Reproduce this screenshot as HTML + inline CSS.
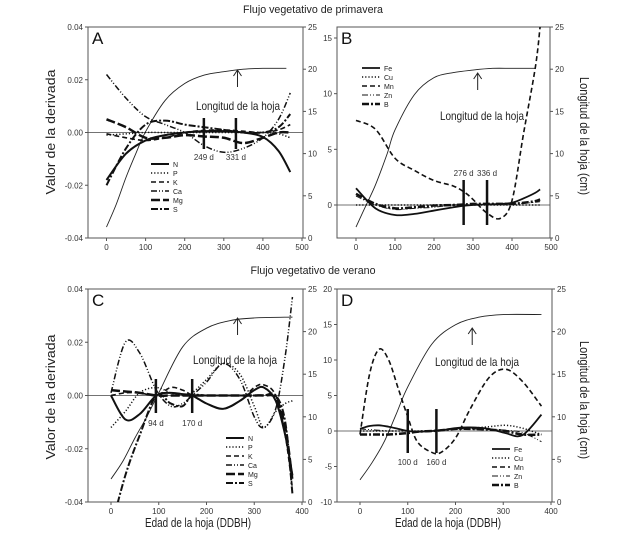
<!DOCTYPE html>
<html><head><meta charset="utf-8"><style>
body{margin:0;background:#fff}
svg{display:block;font-family:"Liberation Sans",sans-serif}
.tk{font-size:8px;fill:#333}
.tt{font-family:"Liberation Sans Narrow","Liberation Sans",sans-serif;fill:#222}
</style></head><body>
<svg id="c" width="627" height="533" viewBox="0 0 627 533">
<text class="tt" x="313" y="13" font-size="11" text-anchor="middle" textLength="140" lengthAdjust="spacingAndGlyphs">Flujo vegetativo de primavera</text>
<text class="tt" x="313" y="274" font-size="11" text-anchor="middle" textLength="125" lengthAdjust="spacingAndGlyphs">Flujo vegetativo de verano</text>
<text class="tt" font-size="13" transform="translate(55,132) rotate(-90)" text-anchor="middle" textLength="125" lengthAdjust="spacingAndGlyphs">Valor de la derivada</text>
<text class="tt" font-size="13" transform="translate(55,397) rotate(-90)" text-anchor="middle" textLength="125" lengthAdjust="spacingAndGlyphs">Valor de la derivada</text>
<text class="tt" font-size="13" transform="translate(580,136) rotate(90)" text-anchor="middle" textLength="118" lengthAdjust="spacingAndGlyphs">Longitud de la hoja (cm)</text>
<text class="tt" font-size="13" transform="translate(580,400) rotate(90)" text-anchor="middle" textLength="118" lengthAdjust="spacingAndGlyphs">Longitud de la hoja (cm)</text>
<text class="tt" x="198" y="527" font-size="13" text-anchor="middle" textLength="106" lengthAdjust="spacingAndGlyphs">Edad de la hoja (DDBH)</text>
<text class="tt" x="448" y="527" font-size="13" text-anchor="middle" textLength="106" lengthAdjust="spacingAndGlyphs">Edad de la hoja (DDBH)</text>
</svg>
<script>
// Panel A data
const aX=[0,50,100,150,200,250,300,350,400,440,470];
const aLeafX=[0,25,50,75,100,150,200,250,300,350,400,460];
const aLeaf=[1.3,4,7.2,10,12.6,16.3,18.3,19.3,19.7,20,20.1,20.1];
const aN=[-0.018,-0.008,-0.003,-0.001,0,0.0005,0.0005,0,-0.0017,-0.007,-0.015];
const aP=[-0.001,-0.0005,0,0,0,0,0,0,0,-0.0005,-0.002];
const aK=[-0.0005,-0.002,-0.003,-0.002,0,0.0008,0.001,0.0005,0,0.001,0.003];
const aCa=[0.022,0.013,0.006,0.003,0,-0.005,-0.0075,-0.006,-0.002,0.005,0.015];
const aMg=[0.005,0.002,-0.002,-0.002,-0.001,-0.0015,-0.002,-0.004,-0.002,0,0];
const aS=[-0.02,-0.006,0.003,0.0045,0.003,0.002,0.001,0,0,0.002,0.007];
// Panel B data
const bX=[0,50,100,150,200,250,280,300,335,370,400,430,460,472];
const bLeafX=[0,25,50,80,100,150,200,250,300,350,400,460];
const bLeaf=[1.3,3.8,6.3,10,12.8,17,19,19.6,19.9,20.1,20.1,20.1];
const bFe=[1.5,-0.3,-0.9,-0.8,-0.5,-0.2,-0.05,0,0.05,0.1,0.2,0.6,1.1,1.4];
const bCu=[0,0,0,0,0,0,0,0,0,0,0,0,0,0];
const bMn=[7.6,6.8,4.2,3.1,2.2,1.7,1.1,0.5,-0.7,-1.2,0.4,6.5,12.4,16];
const bZn=[0.8,0,-0.4,-0.3,-0.2,0,0,0,0,0.05,0.1,0.15,0.25,0.3];
const bB=[1.0,0.1,-0.3,-0.2,-0.05,0,0.05,0.1,0.1,0.1,0.1,0.2,0.35,0.5];
// Panel C data
const cX=[0,30,60,95,125,150,170,200,235,270,300,320,345,365,380];
const cLeafX=[0,25,50,75,100,150,200,250,300,380];
const cLeaf=[2.7,4.8,7.5,10,12.8,18.2,20.4,21.3,21.6,21.7];
const cN=[0,-0.009,-0.007,0,0.001,0.0005,0,-0.003,-0.005,-0.002,0.002,0.003,-0.002,-0.015,-0.03];
const cP=[-0.012,-0.006,0.001,0.003,0.001,0,0.001,0.006,0.012,0.008,-0.004,-0.012,-0.006,-0.003,-0.002];
const cK=[0,0.001,0.001,0,0.003,0.002,0,-0.003,-0.005,-0.002,0.003,0.004,0,-0.015,-0.035];
const cCa=[0.001,0.02,0.016,0.002,-0.004,-0.003,0,0.005,0.012,0.006,-0.008,-0.012,-0.005,0.015,0.037];
const cMg=[0.002,0.0015,0.001,0,0,0,0,0,0,0,0,0,-0.001,-0.012,-0.032];
const cS=[-0.05,-0.03,-0.015,0,-0.003,-0.004,0,0,0,0,0,0,0,-0.01,-0.037];
// Panel D data
const dX=[0,20,40,60,80,100,120,150,170,200,230,270,305,340,380];
const dLeafX=[0,25,50,75,100,150,200,250,300,380];
const dLeaf=[2.6,4.6,7,10.2,13.5,18.5,20.8,21.7,22,22];
const dFe=[0.3,0.7,0.8,0.6,0.3,0,-0.1,0,0.1,0.4,0.5,0.3,-0.3,-0.6,2.3];
const dCu=[0,0,0,0,0,0,0,0,0.1,0.3,0.4,0.6,0.8,0.4,-0.5];
const dMn=[-0.5,8,11.5,10,6,2,-1.5,-3,-3,-1,3,7.5,8.7,7,3.5];
const dZn=[0.3,0.2,0.1,0,0,0,0,0,0.1,0.3,0.3,0.2,0.1,-0.2,-1.5];
const dB=[-0.5,-0.5,-0.5,-0.5,-0.4,-0.3,-0.1,0,0.1,0.3,0.3,0.2,0,-0.5,-0.5];
// ticks / markers
const abXTicks=[0,100,200,300,400,500];
const cdXTicks=[0,100,200,300,400];
const derivTicks=[-0.04,-0.02,0,0.02,0.04];
const derivLabels=["-0.04","-0.02","0.00","0.02","0.04"];
const bTicks=[0,5,10,15];
const dTicks=[-10,-5,0,5,10,15,20];
const leafTicks=[0,5,10,15,20,25];
const aMarks=[249,331], bMarks=[276,336], cMarks=[94,170], dMarks=[100,160];
const aArrow=335, bArrow=312, cArrow=265, dArrow=235;

const NS="http://www.w3.org/2000/svg";
const svg=document.getElementById('c');
function mk(t,a,p){const e=document.createElementNS(NS,t);for(const k in a)e.setAttribute(k,a[k]);(p||svg).appendChild(e);return e;}
function lin(d0,d1,r0,r1){return v=>r0+(v-d0)*(r1-r0)/(d1-d0);}
function smooth(xs,ys,sx,sy){const p=xs.map((x,i)=>[sx(x),sy(ys[i])]);let d="M"+p[0][0]+","+p[0][1];
for(let i=0;i<p.length-1;i++){const p0=p[i-1]||p[i],p1=p[i],p2=p[i+1],p3=p[i+2]||p2;
d+=" C"+(p1[0]+(p2[0]-p0[0])/6)+","+(p1[1]+(p2[1]-p0[1])/6)+" "+(p2[0]-(p3[0]-p1[0])/6)+","+(p2[1]-(p3[1]-p1[1])/6)+" "+p2[0]+","+p2[1];}return d;}
const styles={
N:{w:2,da:""},P:{w:1.5,da:"1.2,2"},K:{w:1.6,da:"5,3"},Ca:{w:1.5,da:"6,2,1,2,1,2"},Mg:{w:2.5,da:"9,3"},S:{w:2,da:"7,2,2,2"},
Fe:{w:1.8,da:""},Cu:{w:1.5,da:"1.2,2"},Mn:{w:1.6,da:"5,3"},Zn:{w:1,da:"6,2,1,2,1,2"},B:{w:2.5,da:"7,2,2,2"}};

function panel(o){
  const g=mk('g',{});  
  const sx=lin(o.xd[0],o.xd[1],o.xr[0],o.xr[1]), sy=lin(o.yd[0],o.yd[1],o.yr[0],o.yr[1]), sr=lin(0,25,o.by1,o.by0);
  const cp=mk('clipPath',{id:'cl'+o.id},g); mk('rect',{x:o.bx0,y:o.by0,width:o.bx1-o.bx0,height:o.by1-o.by0},cp);
  const box=mk('rect',{x:o.bx0,y:o.by0,width:o.bx1-o.bx0,height:o.by1-o.by0,fill:'none',stroke:'#555','stroke-width':1},g);
   
  mk('line',{x1:o.bx0,x2:o.bx1,y1:sy(0),y2:sy(0),stroke:'#444','stroke-width':0.8},g);
  o.xt.forEach(v=>{mk('line',{x1:sx(v),x2:sx(v),y1:o.by1,y2:o.by1+3,stroke:'#555'},g);
    const t=mk('text',{x:sx(v),y:o.by1+12,'text-anchor':'middle',class:'tk'},g);t.textContent=v;
     });
  o.yt.forEach((v,i)=>{mk('line',{x1:o.bx0-3,x2:o.bx0,y1:sy(v),y2:sy(v),stroke:'#555'},g);
    const t=mk('text',{x:o.bx0-5,y:sy(v)+3,'text-anchor':'end',class:'tk'},g);t.textContent=o.yl?o.yl[i]:v;
     });
  leafTicks.forEach(v=>{mk('line',{x1:o.bx1,x2:o.bx1+3,y1:sr(v),y2:sr(v),stroke:'#555'},g);
    const t=mk('text',{x:o.bx1+5,y:sr(v)+3,class:'tk'},g);t.textContent=v;
     });
  const lt=mk('text',{x:o.bx0+4,y:o.by0+17,'font-size':17,fill:'#111'},g);lt.textContent=o.id;
   
  const cg=mk('g',{'clip-path':'url(#cl'+o.id+')'},g);
  const lf=mk('path',{d:smooth(o.lx,o.leaf,sx,sr),fill:'none',stroke:'#222','stroke-width':0.9},cg);
   
  o.series.forEach(s=>{const st=styles[s[0]];
    const p=mk('path',{d:smooth(o.x,s[1],sx,sy),fill:'none',stroke:'#111','stroke-width':st.w,'stroke-dasharray':st.da},cg);
     });
  o.marks.forEach(m=>{const l=mk('line',{x1:sx(m),x2:sx(m),y1:o.my[0],y2:o.my[1],stroke:'#111','stroke-width':2.5},g);
     
    const t=mk('text',{x:sx(m),y:o.ml,'text-anchor':'middle',class:'tk','font-size':9},g);t.textContent=m+' d';
     });
  const ax=sx(o.arrow), ay=o.arrowY;
  const ar=mk('path',{d:`M${ax},${ay+17}V${ay}M${ax-4},${ay+6}L${ax},${ay}L${ax+4},${ay+6}`,fill:'none',stroke:'#222','stroke-width':1},g);
   
  const tl=mk('text',{x:o.tx,y:o.ty,'text-anchor':'middle',class:'tt','font-size':12,textLength:84,lengthAdjust:'spacingAndGlyphs'},g);tl.textContent='Longitud de la hoja';
   
  const lg=mk('g',{},g);  
  o.series.forEach((s,i)=>{const st=styles[s[0]],y=o.lg[1]+i*9;
    const e=mk('g',{},lg);  
    mk('line',{x1:o.lg[0],x2:o.lg[0]+18,y1:y,y2:y,stroke:'#111','stroke-width':st.w,'stroke-dasharray':st.da},e);
    const t=mk('text',{x:o.lg[0]+22,y:y+3,'font-size':7,fill:'#222'},e);t.textContent=s[0];});
}
panel({id:'A',bx0:88,bx1:303,by0:27,by1:238,xd:[0,500],xr:[106.5,302],yd:[-0.04,0.04],yr:[238,27],xt:abXTicks,yt:derivTicks,yl:derivLabels,
 lx:aLeafX,leaf:aLeaf,x:aX,series:[['N',aN],['P',aP],['K',aK],['Ca',aCa],['Mg',aMg],['S',aS]],
 marks:aMarks,my:[118,149],ml:160,arrow:aArrow,arrowY:70,tx:238,ty:110,lg:[151,164]});
panel({id:'B',bx0:337,bx1:550,by0:27,by1:238,xd:[0,500],xr:[356,551],yd:[0,15],yr:[205,38],xt:abXTicks,yt:bTicks,
 lx:bLeafX,leaf:bLeaf,x:bX,series:[['Fe',bFe],['Cu',bCu],['Mn',bMn],['Zn',bZn],['B',bB]],
 marks:bMarks,my:[180,225],ml:176,arrow:bArrow,arrowY:73,tx:482,ty:120,lg:[362,68]});
panel({id:'C',bx0:88,bx1:303,by0:289,by1:502,xd:[0,400],xr:[111,302],yd:[-0.04,0.04],yr:[502,289],xt:cdXTicks,yt:derivTicks,yl:derivLabels,
 lx:cLeafX,leaf:cLeaf,x:cX,series:[['N',cN],['P',cP],['K',cK],['Ca',cCa],['Mg',cMg],['S',cS]],
 marks:cMarks,my:[379,413],ml:426,arrow:cArrow,arrowY:318,tx:235,ty:364,lg:[226,438]});
panel({id:'D',bx0:337,bx1:552,by0:289,by1:502,xd:[0,400],xr:[360,551],yd:[-10,20],yr:[502,289],xt:cdXTicks,yt:dTicks,
 lx:dLeafX,leaf:dLeaf,x:dX,series:[['Fe',dFe],['Cu',dCu],['Mn',dMn],['Zn',dZn],['B',dB]],
 marks:dMarks,my:[409,453],ml:465,arrow:dArrow,arrowY:328,tx:477,ty:366,lg:[492,449]});
</script>
</body></html>
